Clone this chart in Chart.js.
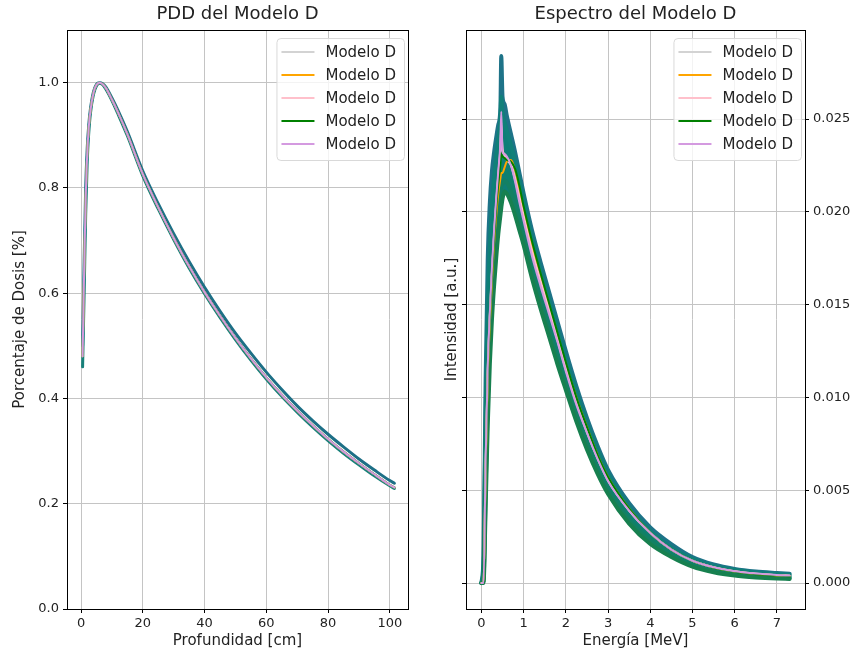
<!DOCTYPE html>
<html>
<head>
<meta charset="utf-8">
<script src="https://cdn.jsdelivr.net/npm/chart.js@4.4.1/dist/chart.umd.min.js"></script>
<style>
  html, body { margin: 0; padding: 0; background: #fff; }
  #wrap { position: relative; width: 859px; height: 659px; }
  canvas { position: absolute; top: 0; }
  #pdd { left: 0; }
  #spec { left: 430px; }
</style>
</head>
<body>
<div id="wrap">
  <canvas id="pdd" width="430" height="659"></canvas>
  <canvas id="spec" width="429" height="659"></canvas>
</div>
<script>
// --- PDD (left) ---
const pddDepth = [0.5, 1, 1.5, 2, 2.5, 3, 4, 5, 6, 7, 8, 10, 12, 15, 20, 25, 30, 35, 40, 45, 50, 55, 60, 65, 70, 75, 80, 85, 90, 95, 100, 101.5];
const pddModel = [0.48, 0.64, 0.78, 0.865, 0.915, 0.945, 0.98, 0.996, 1.0, 0.997, 0.99, 0.968, 0.943, 0.902, 0.826, 0.763, 0.705, 0.651, 0.602, 0.557, 0.515, 0.476, 0.440, 0.407, 0.377, 0.349, 0.323, 0.299, 0.277, 0.256, 0.236, 0.231];
const pddTealHi = [0.50, 0.66, 0.80, 0.875, 0.92, 0.948, 0.982, 0.997, 1.0, 0.998, 0.992, 0.971, 0.947, 0.907, 0.832, 0.770, 0.713, 0.660, 0.611, 0.566, 0.524, 0.486, 0.450, 0.417, 0.386, 0.358, 0.332, 0.308, 0.285, 0.264, 0.244, 0.239];
const pddTealLo = [0.46, 0.60, 0.75, 0.85, 0.905, 0.94, 0.977, 0.994, 0.999, 0.996, 0.988, 0.966, 0.940, 0.899, 0.823, 0.760, 0.702, 0.648, 0.599, 0.554, 0.512, 0.473, 0.437, 0.404, 0.374, 0.346, 0.320, 0.296, 0.274, 0.253, 0.234, 0.229];
const pddXTicks = [0, 20, 40, 60, 80, 100];
const pddYTicks = [0, 0.2, 0.4, 0.6, 0.8, 1.0];

// --- Espectro (right) ---
const energy = [0, 0.05, 0.1, 0.15, 0.2, 0.25, 0.3, 0.35, 0.4, 0.45, 0.47, 0.5, 0.55, 0.6, 0.7, 0.8, 0.9, 1.0, 1.2, 1.4, 1.6, 1.8, 2.0, 2.25, 2.5, 2.75, 3.0, 3.5, 4.0, 4.5, 5.0, 5.5, 6.0, 6.5, 7.0, 7.3];
const specTealA = [0, 0.0015, 0.011, 0.0175, 0.0205, 0.0222, 0.0232, 0.0240, 0.0247, 0.0256, 0.0284, 0.0262, 0.0258, 0.0252, 0.0242, 0.0232, 0.0221, 0.0210, 0.0190, 0.0173, 0.0157, 0.0141, 0.0125, 0.0106, 0.0089, 0.0074, 0.0061, 0.0043, 0.0030, 0.0021, 0.0014, 0.0010, 0.00076, 0.00062, 0.00054, 0.0005];
const specTealB = [0, 0.0008, 0.0092, 0.0150, 0.0182, 0.0203, 0.0218, 0.0230, 0.0240, 0.0250, 0.0262, 0.0252, 0.0248, 0.0244, 0.0236, 0.0227, 0.0217, 0.0206, 0.0186, 0.0169, 0.0153, 0.0137, 0.0121, 0.0103, 0.0086, 0.0072, 0.0059, 0.0041, 0.0028, 0.0019, 0.0013, 0.00092, 0.0007, 0.00056, 0.00048, 0.00045];
const specTealE = [0, 0.0005, 0.0076, 0.0130, 0.0162, 0.0184, 0.0200, 0.0214, 0.0225, 0.0235, 0.0244, 0.0237, 0.0235, 0.0232, 0.0226, 0.0218, 0.0208, 0.0198, 0.0179, 0.0162, 0.0146, 0.0131, 0.0115, 0.0098, 0.0082, 0.0068, 0.0056, 0.0038, 0.0026, 0.0018, 0.0012, 0.0008, 0.0006, 0.00048, 0.0004, 0.00037];
const specTealC = [0, 0.0003, 0.0060, 0.0110, 0.0142, 0.0165, 0.0183, 0.0198, 0.0210, 0.0220, 0.0226, 0.0222, 0.0222, 0.0221, 0.0216, 0.0208, 0.0199, 0.0189, 0.0171, 0.0155, 0.0139, 0.0124, 0.0109, 0.0092, 0.0077, 0.0063, 0.0052, 0.0035, 0.0024, 0.0016, 0.0010, 0.0007, 0.0005, 0.0004, 0.00033, 0.0003];
const specTealF = [0, 0.0001, 0.0050, 0.0098, 0.0130, 0.0154, 0.0172, 0.0187, 0.0199, 0.0209, 0.0214, 0.0215, 0.0217, 0.0216, 0.0211, 0.0203, 0.0195, 0.0186, 0.0168, 0.0152, 0.0136, 0.0121, 0.0107, 0.0090, 0.0075, 0.0061, 0.0050, 0.0034, 0.0023, 0.0015, 0.00095, 0.00065, 0.00045, 0.00035, 0.00028, 0.00026];
const specTealD = [0, 0, 0.004, 0.0085, 0.0118, 0.0142, 0.0160, 0.0175, 0.0188, 0.0198, 0.0202, 0.0207, 0.0211, 0.0210, 0.0205, 0.0198, 0.0190, 0.0182, 0.0164, 0.0148, 0.0133, 0.0118, 0.0104, 0.0087, 0.0072, 0.0059, 0.0048, 0.0032, 0.0021, 0.0014, 0.00088, 0.00058, 0.0004, 0.0003, 0.00024, 0.00022];
const specGray = [0, 0, 0.0064, 0.0114, 0.0144, 0.0167, 0.0187, 0.0204, 0.0219, 0.0233, 0.0245, 0.0233, 0.0230, 0.0228, 0.0225, 0.0217, 0.0207, 0.0197, 0.0178, 0.0162, 0.0147, 0.0131, 0.0115, 0.0097, 0.0081, 0.0067, 0.0055, 0.0039, 0.0027, 0.0018, 0.0012, 0.00084, 0.00062, 0.0005, 0.00042, 0.00039];
const specOrange = [0, 0, 0.006, 0.011, 0.014, 0.0163, 0.0183, 0.0198, 0.0210, 0.0218, 0.0221, 0.0221, 0.0224, 0.0227, 0.0228, 0.0222, 0.0212, 0.0201, 0.0182, 0.0166, 0.0150, 0.0134, 0.0118, 0.0100, 0.0084, 0.0069, 0.0057, 0.0040, 0.0027, 0.0018, 0.0012, 0.00084, 0.00062, 0.00049, 0.00041, 0.00038];
const specPink = [0, 0, 0.0065, 0.0115, 0.0145, 0.0168, 0.0188, 0.0205, 0.0220, 0.0235, 0.0248, 0.0234, 0.0231, 0.0229, 0.0226, 0.0218, 0.0208, 0.0198, 0.0179, 0.0163, 0.0148, 0.0132, 0.0116, 0.0098, 0.0082, 0.0068, 0.0056, 0.0039, 0.0027, 0.0018, 0.0012, 0.00085, 0.00063, 0.0005, 0.00042, 0.00039];
const specGreen = [0, 0, 0.006, 0.011, 0.0142, 0.0165, 0.0185, 0.0202, 0.0215, 0.0226, 0.0232, 0.0230, 0.0229, 0.0228, 0.0227, 0.0223, 0.0214, 0.0203, 0.0184, 0.0167, 0.0151, 0.0135, 0.0119, 0.0100, 0.0084, 0.0069, 0.0057, 0.0040, 0.0027, 0.0018, 0.0012, 0.00082, 0.0006, 0.00047, 0.0004, 0.00036];
const specViolet = [0, 0, 0.0066, 0.0116, 0.0146, 0.0170, 0.0190, 0.0207, 0.0222, 0.0238, 0.0254, 0.0232, 0.0231, 0.0230, 0.0225, 0.0216, 0.0205, 0.0195, 0.0176, 0.0160, 0.0145, 0.0130, 0.0114, 0.0096, 0.0081, 0.0067, 0.0055, 0.0039, 0.0027, 0.0018, 0.0012, 0.00085, 0.00064, 0.00051, 0.00043, 0.0004];
const specXTicks = [0, 1, 2, 3, 4, 5, 6, 7];
const specYTicks = [0, 0.005, 0.010, 0.015, 0.020, 0.025];

const legendLabel = 'Modelo D';
const modelColors = ['#d3d3d3', '#ffa500', '#ffc0cb', '#008000', '#d49ae0'];

Chart.defaults.font.family = "'DejaVu Sans', sans-serif";
Chart.defaults.color = '#222';

const pts = (xs, ys) => xs.map((x, i) => ({ x, y: ys[i] }));

// matplotlib-like frame, title and boxed legend
const mplDecor = {
  id: 'mplDecor',
  afterDatasetsDraw(chart) {
    const { ctx, chartArea: a } = chart;
    ctx.save();
    ctx.strokeStyle = '#000';
    ctx.lineWidth = 1;
    ctx.strokeRect(Math.round(a.left) + 0.5, Math.round(a.top) + 0.5, Math.round(a.right - a.left), Math.round(a.bottom - a.top));
    ctx.restore();
  },
  afterDraw(chart, args, opts) {
    const { ctx, chartArea: a } = chart;
    ctx.save();
    ctx.fillStyle = '#222';
    ctx.font = '18px "DejaVu Sans"';
    ctx.textAlign = 'center';
    ctx.textBaseline = 'middle';
    ctx.fillText(opts.title, (a.left + a.right) / 2, 14);

    const items = chart.data.datasets.filter(ds => ds.inLegend);
    ctx.font = '15px "DejaVu Sans"';
    const textW = Math.max(...items.map(it => ctx.measureText(it.label).width));
    const w = 49 + textW + 8, h = 122;
    const x = a.right - 4 - w, y = a.top + 8;
    ctx.beginPath();
    if (ctx.roundRect) ctx.roundRect(x + 0.5, y + 0.5, w, h, 4); else ctx.rect(x + 0.5, y + 0.5, w, h);
    ctx.fillStyle = 'rgba(255,255,255,0.8)';
    ctx.fill();
    ctx.strokeStyle = '#d9d9d9';
    ctx.lineWidth = 1;
    ctx.stroke();
    ctx.textAlign = 'left';
    items.forEach((it, i) => {
      const ry = y + 14 + i * 23;
      ctx.strokeStyle = it.borderColor;
      ctx.lineWidth = 2;
      ctx.beginPath();
      ctx.moveTo(x + 5, ry);
      ctx.lineTo(x + 38, ry);
      ctx.stroke();
      ctx.fillStyle = '#222';
      ctx.fillText(it.label, x + 49, ry + 1);
    });
    ctx.restore();
  }
};

function bundle(xs, ys, color, width, fill) {
  return {
    label: '', data: pts(xs, ys), borderColor: color, borderWidth: width, order: 10, inLegend: false,
    fill: fill === undefined ? false : fill, backgroundColor: '#0e7e76',
  };
}

function models(xs, series) {
  return series.map((ys, i) => ({
    label: legendLabel, data: pts(xs, ys), borderColor: modelColors[i], borderWidth: 2, order: 5 - i, inLegend: true, fill: false,
  }));
}

const gridStyle = { color: '#c4c4c4', lineWidth: 1, tickColor: '#000', tickLength: 4 };
const tickFont = { size: 13 };
const labelFont = { size: 15 };

function baseOptions(title, scales) {
  return {
    responsive: false,
    animation: false,
    layout: { padding: { top: 30, right: 0, bottom: 0, left: 0 } },
    elements: {
      point: { radius: 0, hoverRadius: 0 },
      line: { cubicInterpolationMode: 'monotone', borderCapStyle: 'round', borderJoinStyle: 'round' },
    },
    plugins: { legend: { display: false }, tooltip: { enabled: false }, mplDecor: { title } },
    scales,
  };
}

new Chart(document.getElementById('pdd'), {
  type: 'line',
  data: {
    datasets: [
      bundle(pddDepth, pddTealLo, '#17807a', 3),
      bundle(pddDepth, pddTealHi, '#1d6f86', 3),
      ...models(pddDepth, [pddModel, pddModel, pddModel, pddModel, pddModel]),
    ],
  },
  options: (() => {
    const o = baseOptions('PDD del Modelo D', {
      x: {
        type: 'linear', min: -4.55, max: 105.9,
        afterBuildTicks: s => { s.ticks = pddXTicks.map(v => ({ value: v })); },
        afterFit: s => { s.height = 50; },
        grid: gridStyle, border: { display: false },
        ticks: { font: tickFont, padding: 3, maxRotation: 0, callback: v => String(v) },
        title: { display: true, text: 'Profundidad [cm]', font: labelFont, padding: { top: 0, bottom: 9 } },
      },
      y: {
        type: 'linear', min: 0, max: 1.1,
        afterBuildTicks: s => { s.ticks = pddYTicks.map(v => ({ value: v })); },
        afterFit: s => { s.width = 67; },
        grid: gridStyle, border: { display: false },
        ticks: { font: tickFont, padding: 4, callback: v => Number(v).toFixed(1) },
        title: { display: true, text: 'Porcentaje de Dosis [%]', font: labelFont, padding: { top: 11, bottom: 0 } },
      },
    });
    o.layout.padding.right = 22;
    return o;
  })(),
  plugins: [mplDecor],
});

new Chart(document.getElementById('spec'), {
  type: 'line',
  data: {
    datasets: [
      bundle(energy, specTealD, '#17804f', 4),
      bundle(energy, specTealF, '#138063', 4),
      bundle(energy, specTealC, '#0f806e', 4),
      bundle(energy, specTealE, '#0e7f76', 4),
      bundle(energy, specTealB, '#108079', 4),
      bundle(energy, specTealA, '#1e7388', 4, 0),
      ...models(energy, [specGray, specOrange, specPink, specGreen, specViolet]),
    ].map(ds => ({ ...ds, yAxisID: 'yR' })),
  },
  options: baseOptions('Espectro del Modelo D', {
    x: {
      type: 'linear', min: -0.365, max: 7.665,
      afterBuildTicks: s => { s.ticks = specXTicks.map(v => ({ value: v })); },
      afterFit: s => { s.height = 50; },
      grid: gridStyle, border: { display: false },
      ticks: { font: tickFont, padding: 3, maxRotation: 0, callback: v => String(v) },
      title: { display: true, text: 'Energía [MeV]', font: labelFont, padding: { top: 0, bottom: 9 } },
    },
    yL: {
      type: 'linear', position: 'left', min: -0.0014, max: 0.0298,
      afterBuildTicks: s => { s.ticks = specYTicks.map(v => ({ value: v })); },
      afterFit: s => { s.width = 36; },
      grid: gridStyle, border: { display: false },
      ticks: { display: false },
      title: { display: true, text: 'Intensidad [a.u.]', font: labelFont, padding: { top: 13, bottom: 0 } },
    },
    yR: {
      type: 'linear', position: 'right', min: -0.0014, max: 0.0298,
      afterBuildTicks: s => { s.ticks = specYTicks.map(v => ({ value: v })); },
      afterFit: s => { s.width = 54; },
      grid: { ...gridStyle, drawOnChartArea: false }, border: { display: false },
      ticks: { font: tickFont, padding: 4, callback: v => Number(v).toFixed(3) },
    },
  }),
  plugins: [mplDecor],
});
</script>
</body>
</html>
